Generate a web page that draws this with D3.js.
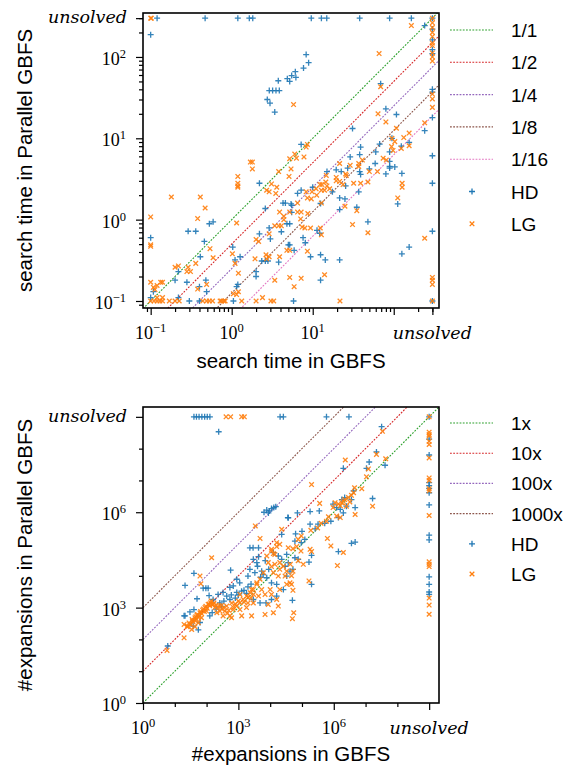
<!DOCTYPE html>
<html>
<head>
<meta charset="utf-8">
<script src="https://cdn.jsdelivr.net/npm/d3@7"></script>
<style>
  body { margin: 0; background: #fff; }
  text { fill: #000; }
</style>
</head>
<body>
<script>
// ---- data ----
var unsolvedTime = 300;
var unsolvedExp = 1e9;

var timeRatios = [1, 1/2, 1/4, 1/8, 1/16];
var timeRatioLabels = ["1/1", "1/2", "1/4", "1/8", "1/16"];
var expFactors = [1, 10, 100, 1000];
var expFactorLabels = ["1x", "10x", "100x", "1000x"];

var timeMajorX = [0.1, 1, 10, 100];
var timeMajorY = [0.1, 1, 10, 100];
var timeLabeledX = [-1, 0, 1];       // exponents that get a label
var timeLabeledY = [-1, 0, 1, 2];
var expMajor = [1, 1e3, 1e6];
var expLabeled = [0, 3, 6];

// search time [GBFS, Parallel GBFS] in seconds
var hdTime = [
  [0.12,300],[0.47,300],[1.19,300],[1.65,300],[1.82,300],[9.6,300],[12.8,300],[14.9,300],[38,300],[89,300],[165,300],[300,300],
  [0.1,188],
  [3.76,51],[4.86,54],[2.91,38.6],[3.2,38.6],[3.52,38.6],[3.87,38.6],[2.75,30],[2.97,27],[3.4,21],
  [8.3,107],[8.9,85],[7.7,73],[6.1,66],[5.5,59],[6.2,56],[5.2,50],
  [241,243],
  [300,220],[300,162],[300,123],[300,110],[300,40],[300,37],[300,18],[300,6.1],[300,2.8],[300,0.72],[300,0.1],
  [241,12.4],[155,0.46],[126,0.38],
  [69,47],[80,23],[108,19.6],[31,13.2],[95,10],[155,8.9],[124,8],[67,8.5],[89,6.8],[60,6.8],[59,4.9],[80,3.65],
  [89,5.2],[89,4.5],[89,4.3],[103,4.45],[126,3.7],[112,1.56],[39,7.8],[38,6.3],[29,5.9],[27,4.3],[38,3.9],[50,4.2],
  [39,3.6],[37,2.2],[22.5,3.9],[19.5,4.1],[15,3.9],[17.5,2.2],[25.5,2.6],[7.2,2.3],[6.5,2.1],[5.5,1.5],[12.5,1.58],
  [21.5,1.85],[21.5,1.33],[25,1.8],[35,1.42],[5.5,1.23],[7.6,0.6],[8.1,0.52],[9.4,0.35],[11.3,0.74],[12.2,0.68],
  [12.5,0.37],[14.3,0.32],[21.5,0.32],[48,0.94],[12.5,0.18],[5.8,0.1],[10,2.5],[7.2,8.4],
  [5.4,1.56],[5.2,0.89],[5.2,0.49],[5.9,0.42],
  [2.2,2.8],[4.3,1.6],[4.6,1.6],[2.6,1.37],[4.8,0.89],[4.1,0.71],[2.9,0.79],[3.0,0.58],[2.2,0.67],[5.0,0.49],
  [3.8,0.30],[2.8,0.31],[2.35,0.31],[2.6,0.31],[2.0,0.23],[2.0,0.2],[1.05,0.1],[1.15,0.15],[1.19,0.16],[1.03,0.46],
  [1.1,0.32],[1.27,0.35],[0.41,0.35],[0.46,0.54],[0.53,0.89],[0.59,0.94],[0.29,0.72],[0.36,0.72],[0.1,0.6],
  [0.22,0.23],[0.2,0.18],[0.28,0.17],[0.4,0.15],[0.48,0.18],[0.49,0.13],[0.4,0.1],[0.3,0.1],[0.22,0.11],
  [0.108,0.13],[0.1,0.11]
];

var lgTime = [
  [0.1,300],[0.102,300],[300,300],
  [165,243],[66,110],
  [300,263],[300,230],[300,200],[300,178],[300,148],[300,138],[300,112],[300,100],[300,89],
  [300,35],[300,30.5],[300,24],[300,0.195],[300,0.18],[300,0.16],[300,0.1],
  [241,15.5],[241,0.59],
  [69,43],[5.8,26],[64,20],[80,15.9],[108,13.3],[155,11.6],[133,10.2],[95,10],[103,9.1],[155,8.1],[124,7.5],
  [94,7.9],[98,7.1],[74,5.7],[81,5.4],[63,3.9],[127,2.8],[127,2.5],[112,1.85],[41,5.4],[37,4.9],[37,4.5],
  [29,4.65],[50,3.9],[48,2.9],[32,2.8],[39,2.8],[26,3.5],[21.5,4.9],[19.5,3.3],[19.5,3.0],[21.5,2.95],[23.7,2.7],
  [25.5,3.65],[14.5,2.9],[15,2.6],[16.2,2.4],[14,2.3],[12.8,2.3],[8.3,2.2],[9.8,2.2],[9.6,1.8],[8.6,1.85],
  [11.2,2.0],[6.5,1.24],[7.2,1.24],[12.8,1.6],[25,1.46],[35,1.29],[7.1,1.02],[7.4,0.81],[8,0.79],[9.4,0.79],
  [8.6,0.41],[12.4,0.79],[12.8,0.65],[31,0.87],[48,0.69],[14,0.21],[5.2,0.195],[7.2,0.19],[5.9,0.15],
  [21.7,0.1],[8.7,1.19],[11,2.4],[12.3,2.7],[13,2.7],[14.7,3.5],
  [6.0,6.4],[6.3,5.7],[5.2,5.6],[5.4,4.2],[8.6,8.4],[8.3,7.8],[7.8,5.9],[6.5,1.6],[5.2,1.24],[5.2,0.42],
  [3.8,3.9],[5.1,3.4],[1.7,5.1],[1.8,5.1],[1.8,4.2],[1.19,3.4],[1.19,2.8],[1.19,2.6],[1.19,2.5],[2.7,2.3],
  [2.9,2.2],[3.1,2.75],[3.6,2.5],[3.5,2.1],[3.9,1.24],[4.4,1.1],[4.4,1.0],[3.4,0.84],[3.8,0.84],[4.1,0.84],
  [2.9,0.67],[2.0,0.57],[2.15,0.54],[4.8,0.42],[3.9,0.35],[2.65,0.37],[2.9,0.35],[2.7,0.33],[1.94,0.33],
  [3.4,0.18],[2.4,0.11],[3.05,0.1],[3.3,0.1],[2.0,0.1],[1.33,0.1],[0.72,0.1],[0.75,0.1],[0.8,0.1],[0.83,0.1],
  [1.15,0.12],[1.21,0.13],[1.05,0.123],[1.02,0.38],[1.1,0.29],[1.21,0.22],[1.15,0.91],[0.59,0.34],[0.54,0.44],
  [0.38,1.03],[0.47,1.39],[0.41,1.9],[0.18,1.9],[0.1,1.08],[0.1,0.49],[0.1,0.47],[0.2,0.26],[0.22,0.27],
  [0.29,0.26],[0.28,0.23],[0.31,0.23],[0.36,0.29],[0.38,0.14],[0.49,0.16],[0.49,0.1],[0.44,0.1],[0.53,0.1],
  [0.58,0.1],[0.17,0.1],[0.2,0.1],[0.225,0.1],[0.1,0.1],[0.11,0.1],[0.12,0.1],[0.13,0.1],[0.14,0.1],
  [0.1,0.17],[0.108,0.147],[0.113,0.138],[0.12,0.155],[0.133,0.17],[0.14,0.17],[0.12,0.11],[0.14,0.11]
];

// expansions [GBFS, Parallel GBFS]
var hdExp = [
  [40,1e9],[48,1e9],[58,1e9],[71,1e9],[87,1e9],[105,1e9],[127,1e9],[2.05e4,1e9],[2.6e4,1e9],[5.9e5,1e9],[3e6,1e9],[1e9,1e9],
  [240,3.4e8],
  [1e9,2.0e8],[1e9,6.3e7],[1e9,8.5e6],[1e9,6.9e6],[1e9,5.6e6],[1e9,4.1e6],[1e9,1.7e6],[1e9,1.9e5],[1e9,1.35e5],
  [1e9,9.3e3],[1e9,5.4e3],[1e9,3.1e3],[1e9,2.6e3],
  [6,62],[21,5000],[40,1.2e4],[78,4100],[95,4100],[112,4100],[50,1900],[120,2400],[570,1.5e4],[40,870],[21,550],
  [30,730],[19.6,550],
  [6400,1.0e6],[7800,1.17e6],[9400,1.1e6],[1.1e4,1.3e6],[1.3e4,1.4e6],[1.5e4,1.5e6],[8800,9.5e5],
  [3.7e4,6.7e5],[2.3e4,2e5],[2300,7.6e4],[2900,7.6e4],[4300,7.6e4],
  [1.26e4,5.4e4],[1.8e4,4.2e4],[2.3e4,3.3e4],[3.3e4,4.7e4],[3.7e4,2.6e4],[2.95e4,2.0e4],
  [2950,3.3e4],[4300,4.0e4],[3800,2.6e4],[2300,1.6e4],[2000,9800],[3300,1.26e4],[5400,1.4e4],[7800,8700],
  [1.1e4,6000],[1.6e4,5400],[1100,6000],[890,7800],[690,4800],[540,4300],[330,3000],[230,2600],[430,2300],
  [890,3000],[1260,3300],[1800,2800],[2950,1800],[4800,1400],[7400,1400],[1.1e4,1800],[1.6e4,2300],[2.6e4,3700],
  [3.3e4,9800],[540,1800],[160,1800],[260,1400],[126,550],[62,340],[38,260],[55,200],
  [150,700],[200,900],[300,1100],[350,1600],[600,2500],[800,2000],[1000,2500],[1500,3500],[2000,4500],
  [2500,5500],[5000,9000],[6000,1.1e4],[9000,1.6e4],[4000,2e4],[7000,3e4],
  [3.2e7,4.9e8],[2.2e7,7.9e7],[1.3e7,3.8e7],[1.07e7,2.4e7],[4.1e7,3.0e7],[2e6,2.4e7],[4.2e6,4.7e6],[1.66e7,2.7e6],
  [9.5e5,1.8e6],[1.23e6,1.4e6],[1.6e6,1.23e6],[2e6,9.5e5],[2.5e6,1.55e6],[1.8e6,2.5e6],[3.6e6,2.5e6],[4.7e6,1.4e6],
  [1.4e6,6.8e5],[2.2e6,2.9e6],[7.2e4,9.5e5],[1.8e5,1.05e6],[3.5e5,1.1e6],[3.6e4,6.8e5],[1.8e5,4.2e5],[3.2e5,4.2e5],
  [5.2e5,4.5e5],[8.1e5,5.2e5],[2.6e5,3.0e5],[1.4e6,5.8e4],[3.6e6,1.05e5],[4.7e6,1.15e5],[6.3e4,2.1e5],[1.0e5,2.5e5],
  [6e4,1.23e5],[9.5e4,1.1e5],[1.23e5,1.4e5],[2e5,4.4e4],[6e4,3.7e4],[7.6e4,3.3e4],[1.66e5,2.7e4],[5.2e4,1.6e4],
  [4.2e4,1.4e4],[2e5,5400],[5e4,1700]
];

var lgExp = [
  [410,1e9],[570,1e9],[1270,1e9],[1540,1e9],[1e9,1e9],
  [1e9,3.3e8],[1e9,2.8e8],[1e9,2.5e8],[1e9,1.7e8],[1e9,1.35e8],[1e9,5.1e7],[1e9,1.2e7],[1e9,1.0e7],[1e9,5.5e6],
  [1e9,4.7e6],[1e9,7.9e5],[1e9,2.75e4],[1e9,2.3e4],[1e9,1.95e4],[1e9,2.0e3],[1e9,1.2e3],[1e9,620],
  [5.7,45],[19.6,112],[19.6,296],[62,9800],[66,5600],[144,3.7e4],
  [30,300],[36,380],[43,480],[50,570],[62,690],[75,830],[89,1000],[112,1260],[134,1420],[24.5,250],[34,205],
  [43,250],[55,335],[69,480],[100,780],[162,1260],[182,1000],[263,780],[297,1170],[380,780],[450,660],[610,480],
  [25,260],[28,330],[32,290],[35,420],[38,350],[42,400],[46,520],[48,430],[52,610],[56,500],[60,560],[65,760],
  [70,650],[80,900],[85,760],[95,1100],[105,950],[120,1300],[125,1150],[140,1600],[150,1250],[170,1400],
  [200,1200],[230,1000],[250,1150],[300,900],[350,1000],[500,820],[700,1000],[800,1300],[1000,1600],
  [1500,1500],[2000,2100],[2500,2000],[3000,2600],
  [890,1120],[1120,1420],[1420,1820],[1820,2300],[2340,2950],[2950,3720],[3800,5400],[4800,7800],[6100,1.25e4],
  [7800,4.2e4],[1.1e4,6.8e4],[1.6e4,1.1e5],[3400,3.7e5],[4800,1.5e5],[1270,550],[2600,550],[6900,610],[540,550],
  [210,690],[330,550],[430,1120],[690,870],[1120,870],[1800,1000],[2950,1400],[4300,2300],[5400,3700],[6900,2600],
  [1e4,3700],[1.1e4,2600],[1.6e4,1800],[2e4,3700],[3.3e4,5400],[3.7e4,7.6e4],[3800,6000],[2600,3700],[1120,2600],
  [620,1400],[2000,1400],[8700,1260],[1.26e4,690],[1.8e4,1120],[2e4,2.6e4],[1.4e4,4.7e4],[1.1e4,6e4],[1.6e4,8.3e4],
  [2e4,9.8e4],[1.26e4,5e4],[2.3e4,2.9e5],
  [8700,2.6e4],[1.1e4,1.95e4],[1.4e4,2.3e4],[2e4,1.6e4],[2.6e4,2e4],[3.3e4,1.4e4],[4.3e4,2.3e4],[1.26e4,1.26e4],
  [1.8e4,9800],[2.95e4,9800],
  [3.4e7,3.5e8],[2.2e7,6.6e7],[1.23e7,2.3e7],[4.3e7,4.8e7],[1.07e7,1.3e7],[2.3e6,4.4e7],[2e5,7.4e6],[7.6e6,5.5e6],
  [4.5e6,5.9e6],[1.66e7,1.55e6],
  [1.1e6,2e6],[1.4e6,1.8e6],[1.8e6,2e6],[2.2e6,2.5e6],[2.9e6,2.9e6],[3.6e6,3.4e6],[4.2e6,4.1e6],[2.5e6,1.55e6],
  [3.2e6,2.1e6],[1.23e6,7.6e5],[1.6e6,6.8e5],[4.7e6,8.5e5],[2e6,2.2e6],[1.6e6,1.6e6],[9.5e5,1.4e6],
  [3.6e5,1.9e6],[6.8e5,7.2e5],[1.9e5,2.7e5],[5.9e5,5.2e5],[3.1e5,3.2e5],[4e5,4.5e5],[6.3e5,1.5e5],[8.1e5,8.7e4],
  [2e6,5.4e4],[1.3e6,2.1e4],[9.5e4,1.8e5],[7.6e4,1.4e5],[5.2e4,7.1e4],[6.8e4,8.3e4],[9.3e4,6e4],[1.8e5,6.8e4],
  [2e5,5.8e4],[7.6e4,3e4],[1.1e5,2.3e4],[4.7e4,1e4],[5.2e4,1.4e4],[4.2e4,6000],[4.7e4,5400],[1.66e5,6900],
  [5.2e4,3500],[5.5e4,690],[5e4,450]
];

// ---- drawing ----
var width = 564, height = 767;
var refColors = ["#2ca02c", "#d62728", "#9467bd", "#8c564b", "#e377c2"];
var blue = "#1f77b4", orange = "#ff7f0e";
var serif = "'Liberation Serif', 'DejaVu Serif', serif";
var serifIt = "'DejaVu Serif', serif";
var sans = "'Liberation Sans', Arial, sans-serif";

var svg = d3.select("body").append("svg")
  .attr("width", width)
  .attr("height", height);

function minorTicks(lo, hi, step) {
  var out = [];
  for (var e = -3; e <= 9; e++) {
    if (step == "decade") {
      var d = Math.pow(10, e);
      if (d >= lo && d <= hi) out.push(d);
      continue;
    }
    for (var k = 2; k <= 9; k++) {
      var v = k * Math.pow(10, e);
      if (v >= lo && v <= hi) out.push(v);
    }
  }
  return out;
}

var plusPath = "M-3,0H3M0,-3V3";
var crossPath = "M-2.3,-2.3L2.3,2.3M-2.3,2.3L2.3,-2.3";

function panel(cfg) {
  var x = cfg.x, y = cfg.y;
  var x0 = x.range()[0], x1 = x.range()[1];
  var y0 = y.range()[1], y1 = y.range()[0];
  var g = svg.append("g");

  g.append("clipPath").attr("id", cfg.id)
    .append("rect").attr("x", x0).attr("y", y0).attr("width", x1 - x0).attr("height", y1 - y0);

  // reference lines y = r*x
  var dom = x.domain();
  g.selectAll(".ref").data(cfg.refs).enter().append("line")
    .attr("clip-path", "url(#" + cfg.id + ")")
    .attr("x1", x(dom[0])).attr("x2", x(dom[1]))
    .attr("y1", function(r) { return y(dom[0] * r); })
    .attr("y2", function(r) { return y(dom[1] * r); })
    .attr("stroke", function(r, i) { return refColors[i]; })
    .attr("stroke-width", 1.1)
    .attr("stroke-dasharray", "1.8,1.4");

  // points
  var pts = g.append("g").attr("clip-path", "url(#" + cfg.id + ")");
  pts.selectAll(".hd").data(cfg.hd).enter().append("path")
    .attr("d", plusPath)
    .attr("transform", function(d) { return "translate(" + x(d[0]) + "," + y(d[1]) + ")"; })
    .attr("stroke", blue).attr("stroke-width", 1.3).attr("opacity", 0.9);
  pts.selectAll(".lg").data(cfg.lg).enter().append("path")
    .attr("d", crossPath)
    .attr("transform", function(d) { return "translate(" + x(d[0]) + "," + y(d[1]) + ")"; })
    .attr("stroke", orange).attr("stroke-width", 1.3).attr("opacity", 0.9);

  // axes
  function styleAxis(a) {
    a.select(".domain").remove();
    a.selectAll("line").attr("stroke", "#000").attr("stroke-width", 1.2);
  }
  g.append("g").attr("transform", "translate(0," + y1 + ")")
    .call(d3.axisBottom(x).tickValues(cfg.xMinor).tickSize(4).tickSizeOuter(0).tickFormat(""))
    .call(styleAxis);
  g.append("g").attr("transform", "translate(0," + y1 + ")")
    .call(d3.axisBottom(x).tickValues(cfg.xMajor.concat([cfg.unsolved])).tickSize(7).tickSizeOuter(0).tickFormat(""))
    .call(styleAxis);
  g.append("g").attr("transform", "translate(" + x0 + ",0)")
    .call(d3.axisLeft(y).tickValues(cfg.yMinor).tickSize(4).tickSizeOuter(0).tickFormat(""))
    .call(styleAxis);
  g.append("g").attr("transform", "translate(" + x0 + ",0)")
    .call(d3.axisLeft(y).tickValues(cfg.yMajor.concat([cfg.unsolved])).tickSize(7).tickSizeOuter(0).tickFormat(""))
    .call(styleAxis);

  // frame
  g.append("rect").attr("x", x0).attr("y", y0).attr("width", x1 - x0).attr("height", y1 - y0)
    .attr("fill", "none").attr("stroke", "#000").attr("stroke-width", 1.6);

  // tick labels
  function pow(t, e) {
    t.text("10").append("tspan").attr("dy", -7).attr("font-size", 12.5)
      .text(e < 0 ? "\u2212" + (-e) : e);
  }
  cfg.xLabeled.forEach(function(e) {
    g.append("text").attr("x", x(Math.pow(10, e))).attr("y", y1 + 31)
      .attr("text-anchor", "middle").attr("font-family", serif).attr("font-size", 18)
      .call(pow, e);
  });
  cfg.yLabeled.forEach(function(e) {
    g.append("text").attr("x", x0 - 17).attr("y", y(Math.pow(10, e)) + 8)
      .attr("text-anchor", "end").attr("font-family", serif).attr("font-size", 18)
      .call(pow, e);
  });
  g.append("text").attr("x", x(cfg.unsolved)).attr("y", y1 + 31)
    .attr("text-anchor", "middle").attr("font-family", serifIt).attr("font-style", "italic")
    .attr("font-size", 17.5).text("unsolved");
  g.append("text").attr("x", x0 - 16).attr("y", y(cfg.unsolved) + 5)
    .attr("text-anchor", "end").attr("font-family", serifIt).attr("font-style", "italic")
    .attr("font-size", 17.5).text("unsolved");

  // axis titles
  g.append("text").attr("x", (x0 + x1) / 2).attr("y", cfg.xTitleY)
    .attr("text-anchor", "middle").attr("font-family", sans).attr("font-size", 20.5)
    .text(cfg.xTitle);
  g.append("text").attr("transform", "translate(32," + (y0 + y1) / 2 + ") rotate(-90)")
    .attr("text-anchor", "middle").attr("font-family", sans).attr("font-size", 20.5)
    .text(cfg.yTitle);

  // legend
  var leg = g.append("g");
  cfg.refLabels.forEach(function(lab, i) {
    var ly = cfg.legendTop + i * cfg.legendStep;
    leg.append("line").attr("x1", 450).attr("x2", 493).attr("y1", ly).attr("y2", ly)
      .attr("stroke", refColors[i]).attr("stroke-width", 1.1).attr("stroke-dasharray", "1.8,1.4");
    leg.append("text").attr("x", 511).attr("y", ly + 7).attr("font-family", sans).attr("font-size", 19).text(lab);
  });
  var n = cfg.refLabels.length;
  var hy = cfg.legendTop + n * cfg.legendStep, ly2 = hy + cfg.legendStep;
  leg.append("path").attr("d", plusPath).attr("transform", "translate(472," + hy + ")")
    .attr("stroke", blue).attr("stroke-width", 1.3);
  leg.append("text").attr("x", 511).attr("y", hy + 7).attr("font-family", sans).attr("font-size", 19).text("HD");
  leg.append("path").attr("d", crossPath).attr("transform", "translate(472," + ly2 + ")")
    .attr("stroke", orange).attr("stroke-width", 1.3);
  leg.append("text").attr("x", 511).attr("y", ly2 + 7).attr("font-family", sans).attr("font-size", 19).text("LG");
}

// top: search time
var xTime = d3.scaleLog().domain([0.0804, 362]).range([143, 439]);
var yTime = d3.scaleLog().domain([0.082, 347]).range([308, 13]);
panel({
  id: "clipTime", x: xTime, y: yTime, unsolved: unsolvedTime,
  xMajor: timeMajorX, yMajor: timeMajorY,
  xMinor: minorTicks(0.0804, 362), yMinor: minorTicks(0.082, 347),
  xLabeled: timeLabeledX, yLabeled: timeLabeledY,
  refs: timeRatios, refLabels: timeRatioLabels,
  hd: hdTime, lg: lgTime,
  xTitle: "search time in GBFS", xTitleY: 368,
  yTitle: "search time in Parallel GBFS",
  legendTop: 30, legendStep: 32.3
});

// bottom: expansions
var xExp = d3.scaleLog().domain([1, 2.04e9]).range([143, 439]);
var yExp = d3.scaleLog().domain([1, 2.04e9]).range([703, 407]);
var expMinor = minorTicks(1, 9.9e8, "decade").filter(function(v) { return expMajor.indexOf(v) < 0; });
panel({
  id: "clipExp", x: xExp, y: yExp, unsolved: unsolvedExp,
  xMajor: expMajor, yMajor: expMajor,
  xMinor: expMinor, yMinor: expMinor,
  xLabeled: expLabeled, yLabeled: expLabeled,
  refs: expFactors, refLabels: expFactorLabels,
  hd: hdExp, lg: lgExp,
  xTitle: "#expansions in GBFS", xTitleY: 761,
  yTitle: "#expansions in Parallel GBFS",
  legendTop: 423, legendStep: 30.2
});
</script>
</body>
</html>
